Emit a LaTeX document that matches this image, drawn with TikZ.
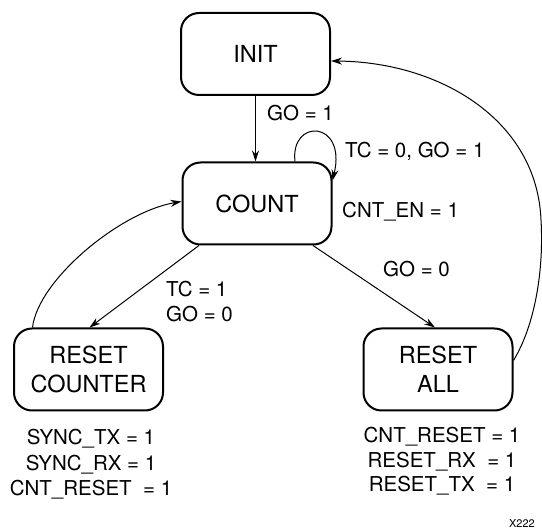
\documentclass[tikz,border=0pt]{standalone}
\usepackage{fontspec}
\setmainfont{TeX Gyre Heros}
\usetikzlibrary{arrows.meta,calc}
\begin{document}
\begin{tikzpicture}[x=1pt,y=-1pt,
 state/.style={draw,line width=2pt,rounded corners=18pt,minimum width=149pt,minimum height=82pt,align=center,font=\fontsize{23.5}{29}\selectfont,inner sep=0pt},
 lbl/.style={inner sep=0pt,anchor=base west,font=\fontsize{20.5}{24}\selectfont},
 outl/.style={inner sep=0pt,anchor=base,font=\fontsize{20.5}{24}\selectfont},
 arr/.style={line width=1pt,-{Stealth[length=11pt,width=7pt]}}]
\useasboundingbox (0,0) rectangle (542,529);
\node[state] (init) at (255.5,54) {INIT};
\node[state] (count) at (257,203.5) {COUNT};
\node[state] (rc) at (88.5,369.5) {RESET\\COUNTER};
\node[state] (ra) at (438,369.5) {RESET\\ALL};
% transitions
\draw[arr] (init.south) -- (init.south |- count.north);
\draw[arr] ($(count.north)+(38,0)$) .. controls (290,118) and (347,120) .. ($(count.east)+(0,-23)$);
\draw[arr] ($(count.south)+(-58,0)$) -- ($(rc.north)+(1,0)$);
\draw[arr] ($(count.south)+(56,0)$) -- ($(ra.north)+(-3,0)$);
\draw[arr] ($(rc.north)+(-56,0)$) .. controls (38,280) and (120,212) .. ($(count.west)+(0,-2)$);
\draw[arr] ($(ra.east)+(0,-9)$) .. controls (535,325) and (544,270) .. (541,220)
  .. controls (537,120) and (440,62) .. ($(init.east)+(0,7)$);
% labels
\node[lbl] (l1) at (267,121) {GO = 1};
\node[lbl] (l2) at (345,158) {TC = 0, GO = 1};
\node[lbl] (l3) at (342,218) {CNT\_EN = 1};
\node[lbl] (l4) at (383,277) {GO = 0};
\node[lbl] (l5) at (166,297) {TC = 1};
\node[lbl] (l6) at (166,322) {GO = 0};
% outputs
\node[outl] (o1) at (91,445) {SYNC\_TX = 1};
\node[outl] (o2) at (91,471) {SYNC\_RX = 1};
\node[outl] (o3) at (91,496) {CNT\_RESET\ \ = 1};
\node[outl] (o4) at (442,443) {CNT\_RESET = 1};
\node[outl] (o5) at (442,468) {RESET\_RX\ \ = 1};
\node[outl] (o6) at (442,492) {RESET\_TX\ \ = 1};
\node[inner sep=0pt,anchor=base east,font=\fontsize{11}{13}\selectfont] (fig) at (535,527.5) {X222};
\end{tikzpicture}
\end{document}
